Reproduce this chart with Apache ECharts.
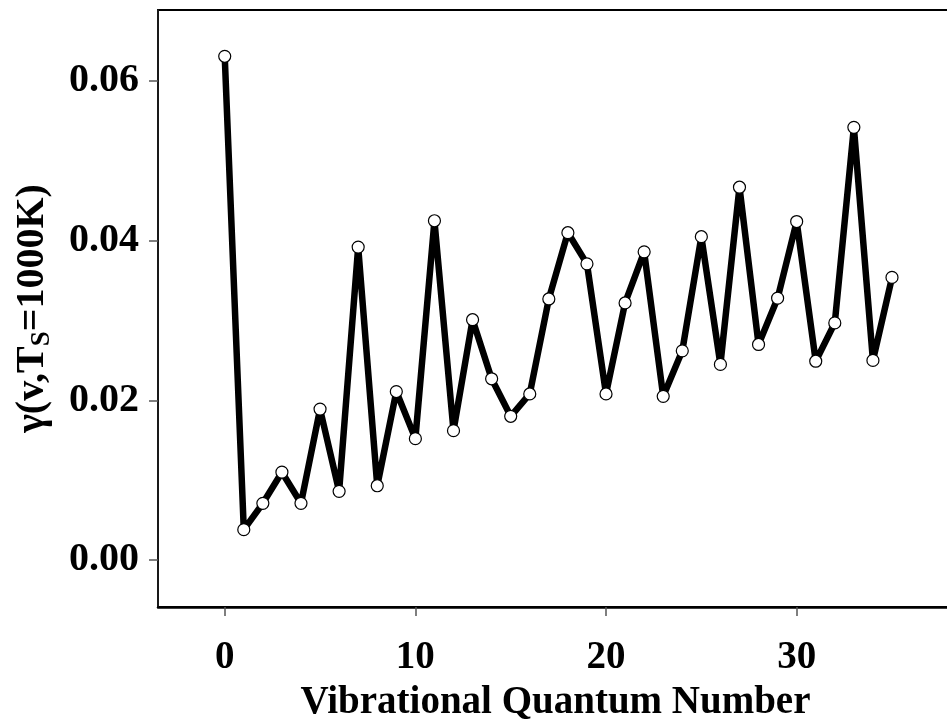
<!DOCTYPE html>
<html>
<head>
<meta charset="utf-8">
<script src="https://cdn.jsdelivr.net/npm/echarts@6/dist/echarts.min.js"></script>
<style>
html,body{margin:0;padding:0;background:#fff;}
#chart{width:947px;height:722px;}
</style>
</head>
<body>
<div id="chart"></div>
<script>
// Data
const quantumNumbers = [0,1,2,3,4,5,6,7,8,9,10,11,12,13,14,15,16,17,18,19,20,21,22,23,24,25,26,27,28,29,30,31,32,33,34,35];
const gammaValues = [0.0631,0.0038,0.0071,0.0110,0.0071,0.0189,0.0086,0.0392,0.0093,0.0211,0.0152,0.0425,0.0162,0.0301,0.0227,0.0180,0.0208,0.0327,0.0410,0.0371,0.0208,0.0322,0.0386,0.0205,0.0262,0.0405,0.0245,0.0467,0.0270,0.0328,0.0424,0.0249,0.0297,0.0542,0.0250,0.0354];
const xTicks = [0,10,20,30];
const yTicks = [0,0.02,0.04,0.06];
const xTitle = 'Vibrational Quantum Number';
const yTitleMain1 = 'γ(v,T';
const yTitleSub = 'S';
const yTitleMain2 = '=1000K)';

const FONT = "'Liberation Serif','Times New Roman',serif";
const points = quantumNumbers.map((q, i) => [q, gammaValues[i]]);

const chart = echarts.init(document.getElementById('chart'), null, {renderer: 'canvas'});
chart.setOption({
  animation: false,
  backgroundColor: '#fff',
  grid: {
    left: 158, top: 10, width: 795, height: 597,
    containLabel: false, outerBoundsMode: 'none',
    show: true, borderColor: '#000', borderWidth: 2, backgroundColor: 'transparent'
  },
  xAxis: {
    type: 'value', min: -3.5, max: 38.2,
    splitLine: {show: false},
    axisLine: {show: true, onZero: false, lineStyle: {color: '#000', width: 2.5}},
    axisTick: {show: true, customValues: xTicks, length: 9, lineStyle: {color: '#555', width: 1.5}},
    axisLabel: {
      customValues: xTicks, margin: 31,
      fontFamily: FONT, fontWeight: 'bold', fontSize: 39, lineHeight: 40, color: '#000'
    },
    name: xTitle, nameLocation: 'middle', nameGap: 72,
    nameTextStyle: {fontFamily: FONT, fontWeight: 'bold', fontSize: 39, lineHeight: 40, color: '#000'}
  },
  yAxis: {
    type: 'value', min: -0.00589, max: 0.0689,
    splitLine: {show: false},
    axisLine: {show: true, onZero: false, lineStyle: {color: '#222', width: 1.5}},
    axisTick: {show: true, customValues: yTicks, length: 9, lineStyle: {color: '#555', width: 1.5}},
    axisLabel: {
      customValues: yTicks, margin: 19,
      formatter: v => v.toFixed(2),
      fontFamily: FONT, fontWeight: 'bold', fontSize: 40, lineHeight: 40, color: '#000',
      verticalAlign: 'middle', padding: [12, 0, 0, 0]
    },
    name: '{m|' + yTitleMain1 + '}{s|' + yTitleSub + '}{m|' + yTitleMain2 + '}',
    nameLocation: 'middle', nameGap: 102, nameRotate: 90,
    nameTextStyle: {
      rich: {
        m: {fontFamily: FONT, fontWeight: 'bold', fontSize: 40, lineHeight: 46, color: '#000'},
        s: {fontFamily: FONT, fontWeight: 'bold', fontSize: 27, lineHeight: 25, verticalAlign: 'bottom', color: '#000'}
      }
    }
  },
  series: [{
    type: 'line',
    data: points,
    symbol: 'circle',
    symbolSize: 12,
    showAllSymbol: true,
    lineStyle: {color: '#000', width: 6.5},
    itemStyle: {color: '#fff', borderColor: '#000', borderWidth: 1.2},
    emphasis: {disabled: true}
  }]
});
</script>
</body>
</html>
